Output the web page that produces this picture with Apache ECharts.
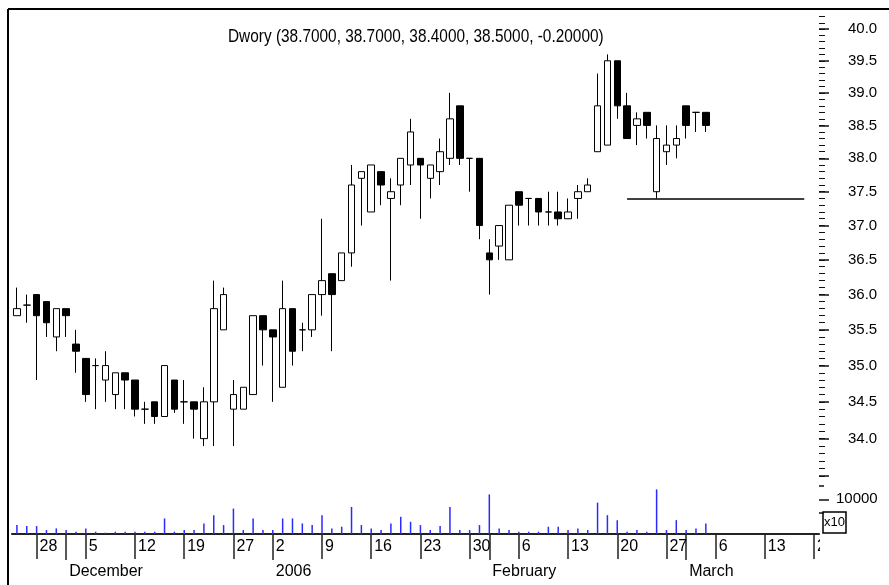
<!DOCTYPE html>
<html><head><meta charset="utf-8">
<script src="https://cdn.jsdelivr.net/npm/echarts@6/dist/echarts.min.js"></script>
<style>html,body{margin:0;padding:0;background:#fff}#c{width:889px;height:585px}</style>
</head><body><div id="c"></div>
<script>
// ---- data ----
const dates = [
'2005-11-24','2005-11-25','2005-11-28','2005-11-29','2005-11-30',
'2005-12-01','2005-12-02','2005-12-05','2005-12-06','2005-12-07','2005-12-08','2005-12-09','2005-12-12','2005-12-13','2005-12-14','2005-12-15','2005-12-16','2005-12-19','2005-12-20','2005-12-21','2005-12-22','2005-12-23','2005-12-27','2005-12-28','2005-12-29','2005-12-30',
'2006-01-02','2006-01-03','2006-01-04','2006-01-05','2006-01-06','2006-01-09','2006-01-10','2006-01-11','2006-01-12','2006-01-13','2006-01-16','2006-01-17','2006-01-18','2006-01-19','2006-01-20','2006-01-23','2006-01-24','2006-01-25','2006-01-26','2006-01-27','2006-01-30','2006-01-31',
'2006-02-01','2006-02-02','2006-02-03','2006-02-06','2006-02-07','2006-02-08','2006-02-09','2006-02-10','2006-02-13','2006-02-14','2006-02-15','2006-02-16','2006-02-17','2006-02-20','2006-02-21','2006-02-22','2006-02-23','2006-02-24','2006-02-27','2006-02-28',
'2006-03-01','2006-03-02','2006-03-03','2006-03-06','2006-03-07','2006-03-08','2006-03-09','2006-03-10','2006-03-13','2006-03-14','2006-03-15','2006-03-16','2006-03-17','2006-03-20'
];
const openP  = [35.7,35.85,36.0,35.9,35.4,35.8,35.3,35.1,35.0,34.8,34.6,34.9,34.8,34.4,34.5,34.3,34.8,34.5,34.5,34.0,34.5,35.5,34.4,34.4,34.6,35.7,35.5,34.7,35.8,35.5,35.5,36.0,36.3,36.2,36.6,37.7,37.2,37.8,37.4,37.6,37.9,38.0,37.7,37.8,38.0,38.8,38.0,38.0,36.6,36.7,36.5,37.5,37.4,37.4,37.2,37.2,37.1,37.4,37.5,38.1,38.2,39.5,38.8,38.5,38.7,37.5,38.1,38.2,38.8,38.7,38.7];
const closeP = [35.8,35.85,35.7,35.6,35.8,35.7,35.2,34.6,35.0,35.0,34.9,34.8,34.4,34.4,34.3,35.0,34.4,34.5,34.4,34.5,35.8,36.0,34.6,34.7,35.7,35.5,35.4,35.8,35.2,35.5,36.0,36.2,36.0,36.6,37.6,37.8,37.9,37.6,37.5,38.0,38.4,37.9,37.9,38.1,38.6,38.0,38.0,37.0,36.5,37.0,37.3,37.3,37.4,37.2,37.2,37.1,37.2,37.5,37.6,38.8,39.5,38.8,38.3,38.6,38.5,38.3,38.2,38.3,38.5,38.7,38.5];
const lowP   = [35.7,35.6,34.8,35.4,35.2,35.4,34.9,34.5,34.4,34.5,34.4,34.4,34.3,34.2,34.2,34.3,34.35,34.2,34.0,33.9,33.9,35.5,33.9,34.4,34.6,35.0,34.5,34.7,35.0,35.2,35.4,35.7,35.2,36.2,36.4,37.0,37.2,37.3,36.2,37.3,37.6,37.1,37.4,37.6,37.9,37.9,37.5,36.8,36.0,36.5,36.5,37.0,37.0,37.0,37.0,37.0,37.1,37.1,37.5,38.1,38.2,38.6,38.3,38.2,38.3,37.4,37.9,38.0,38.3,38.4,38.4];
const highP  = [36.1,36.0,36.0,35.9,35.8,35.8,35.5,35.1,35.1,35.2,34.9,34.9,34.8,34.5,34.5,35.0,34.8,34.8,34.5,34.7,36.2,36.1,34.8,34.7,35.7,35.7,35.5,36.2,35.8,35.6,36.0,37.1,36.3,36.6,37.9,37.8,37.9,37.8,37.7,38.0,38.6,38.0,37.9,38.3,39.0,38.8,38.0,38.0,36.8,37.0,37.3,37.5,37.4,37.4,37.5,37.5,37.4,37.6,37.7,39.3,39.6,39.5,39.0,38.7,38.7,38.5,38.5,38.5,38.8,38.7,38.7];
const volume = [2570,2290,2290,1140,1620,1140,660,1620,660,380,660,660,660,660,660,4480,660,1140,1140,3050,5430,2570,7330,1140,4480,1140,1140,4480,4480,3050,2570,5430,1620,2100,7810,2570,1620,1140,3050,4950,3520,2570,1140,2290,7810,1140,1140,2570,11430,1620,1140,660,660,660,2100,2100,1140,1620,1140,9050,5430,4000,660,1140,660,12860,1140,4000,1140,1620,3050];
const priceLabels = [34.0,34.5,35.0,35.5,36.0,36.5,37.0,37.5,38.0,38.5,39.0,39.5,40.0];
const priceMajorTicks = [33.5,34.0,34.5,35.0,35.5,36.0,36.5,37.0,37.5,38.0,38.5,39.0,39.5,40.0];
const volumeLabels = [10000];
const volumeMinorTicks = [6000,14000];
const supportLine = {from:'2006-02-21', to:'2006-03-17', value:37.4};
const titleText = 'Dwory (38.7000, 38.7000, 38.4000, 38.5000, -0.20000)';
const monthNames = ['2006','February','March','April','May','June','July','August','September','October','November','December'];

// ---- helpers ----
const priceMinorTicks = [];
for (let v = 335; v <= 402; v++) priceMinorTicks.push(v / 10);
function parts(s){ return s.split('-').map(Number); }
function dow(s){ const a = parts(s); return new Date(Date.UTC(a[0],a[1]-1,a[2])).getUTCDay(); }
function isWeekStart(i){ return i > 0 && dow(dates[i]) < dow(dates[i-1]); }
function isMonthStart(i){ return i > 0 && parts(dates[i])[1] !== parts(dates[i-1])[1]; }
function monthLabel(s){ const a = parts(s); return a[1] === 1 ? String(a[0]) : monthNames[a[1]-1]; }

const candleData = openP.map((o, i) => [o, closeP[i], lowP[i], highP[i]]);

const SANS = '"Liberation Sans",Arial,sans-serif';
const GL = 12, GR = 70;

const chart = echarts.init(document.getElementById('c'), null, {renderer:'canvas'});
chart.setOption({
  animation: false,
  backgroundColor: '#fff',
  grid: [
    { left: GL, right: GR, top: 4, height: 479.5 },
    { left: GL, right: GR, top: 482, height: 52 }
  ],
  xAxis: [
    { type:'category', gridIndex:0, data: dates, boundaryGap:true,
      axisLine:{show:false}, axisTick:{show:false}, axisLabel:{show:false}, splitLine:{show:false} },
    { type:'category', gridIndex:1, data: dates, boundaryGap:true, position:'bottom',
      axisLine:{show:true, lineStyle:{color:'#9a9a9a', width:1}},
      axisTick:{show:true, alignWithLabel:true, length:25, lineStyle:{color:'#222', width:1.5},
        interval:(i)=> isWeekStart(i) || isMonthStart(i)},
      axisLabel:{show:true, interval:(i)=> isWeekStart(i), formatter:(v)=> String(parts(v)[2]),
        align:'left', padding:[0,0,0,3], margin:5, fontFamily:SANS, fontSize:16, color:'#000'},
      splitLine:{show:false} },
    { type:'category', gridIndex:1, data: dates, boundaryGap:true, position:'bottom', offset:25,
      axisLine:{show:true, lineStyle:{color:'#222', width:2}},
      axisTick:{show:true, alignWithLabel:true, length:26, lineStyle:{color:'#222', width:1.5},
        interval:(i)=> isMonthStart(i)},
      axisLabel:{show:true, interval:(i)=> isMonthStart(i), formatter:(v)=> monthLabel(v),
        align:'left', padding:[0,0,0,3], margin:5, fontFamily:SANS, fontSize:16, color:'#000'},
      splitLine:{show:false} }
  ],
  yAxis: [
    { type:'log', logBase:10, gridIndex:0, position:'right', min:33.4, max:40.4,
      axisLine:{show:false}, splitLine:{show:false}, axisLabel:{show:false},
      axisTick:{show:true, length:6, customValues: priceMinorTicks, lineStyle:{color:'#111', width:1}} },
    { type:'log', logBase:10, gridIndex:0, position:'right', min:33.4, max:40.4,
      axisLine:{show:false}, splitLine:{show:false},
      axisTick:{show:true, length:10, customValues: priceMajorTicks, lineStyle:{color:'#111', width:1.5}},
      axisLabel:{show:true, customValues: priceLabels, margin:29, padding:[7,0,0,0], formatter:(v)=> Number(v).toFixed(1),
        fontFamily:SANS, fontSize:15, color:'#000'} },
    { type:'value', gridIndex:1, position:'right', min:0, max:15000,
      axisLine:{show:false}, splitLine:{show:false},
      axisTick:{show:true, length:10, customValues: volumeLabels, lineStyle:{color:'#111', width:1.5}},
      axisLabel:{show:true, customValues: volumeLabels, margin:17, formatter:(v)=> String(v),
        fontFamily:SANS, fontSize:15, color:'#000'} },
    { type:'value', gridIndex:1, position:'right', min:0, max:15000,
      axisLine:{show:false}, splitLine:{show:false}, axisLabel:{show:false},
      axisTick:{show:true, length:5, customValues: volumeMinorTicks, lineStyle:{color:'#111', width:1.5}} }
  ],
  series: [
    { type:'candlestick', xAxisIndex:0, yAxisIndex:1, data: candleData, barWidth:7,
      itemStyle:{ color:'#fff', color0:'#000', borderColor:'#000', borderColor0:'#000', borderWidth:1 },
      markLine:{ silent:true, symbol:['none','none'], label:{show:false},
        lineStyle:{color:'#000', width:1.5, type:'solid'},
        data:[[{coord:[supportLine.from, supportLine.value]},{coord:[supportLine.to, supportLine.value]}]] } },
    { type:'bar', xAxisIndex:1, yAxisIndex:2, data: volume, barWidth:1.5,
      itemStyle:{ color:'#2b2bff' } }
  ],
  graphic: [
    { type:'text', z:40, x:228, y:27, scaleX:0.81,
      style:{ text: titleText, font:'19px "Liberation Sans",Arial,sans-serif', fill:'#000' } },
    { type:'line', z:50, shape:{x1:8, y1:9, x2:8, y2:585}, style:{stroke:'#000', lineWidth:2} },
    { type:'line', z:50, shape:{x1:8, y1:9, x2:889, y2:9}, style:{stroke:'#000', lineWidth:2} },
    { type:'rect', z:60, shape:{x:820, y:535, width:30, height:23}, style:{fill:'#fff'} },
    { type:'group', z:70, x:823, y:512, children:[
      { type:'rect', shape:{x:0, y:0, width:23, height:21}, style:{fill:'#fff', stroke:'#000', lineWidth:1.5} },
      { type:'text', style:{x:11.5, y:10.5, text:'x10', align:'center', verticalAlign:'middle', font:'13px "Liberation Sans",Arial,sans-serif', fill:'#000'} }
    ]}
  ]
});
</script></body></html>
